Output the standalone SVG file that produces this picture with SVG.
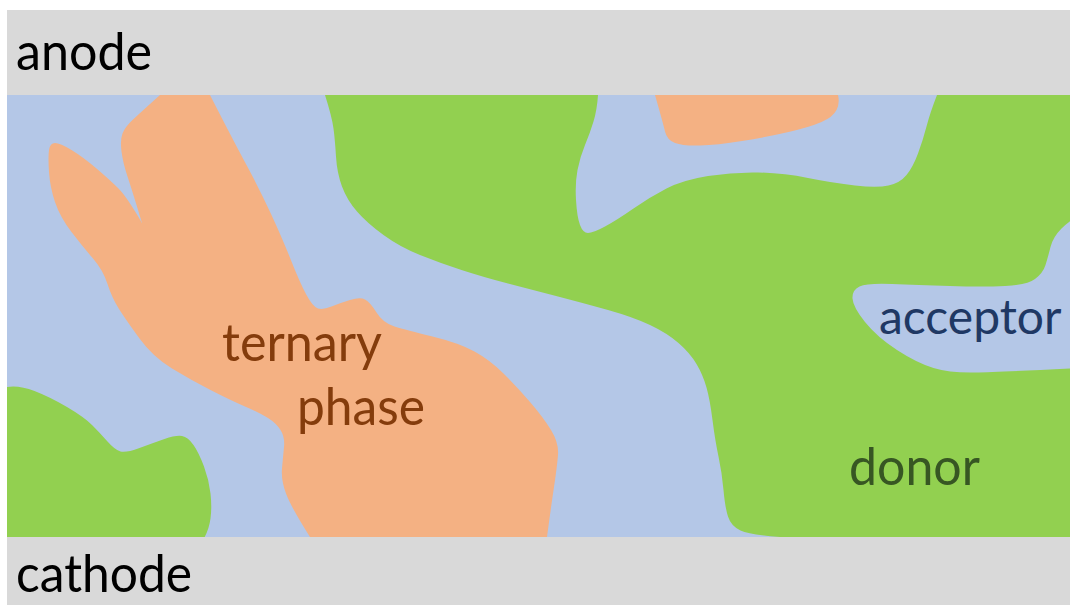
<svg xmlns="http://www.w3.org/2000/svg" width="1070" height="605" viewBox="0 0 1070 605">
  <style>
    .electrode { fill: #D9D9D9; }
    .matrix { fill: #B4C7E7; }
    .donor { fill: #92D050; }
    .ternary { fill: #F4B183; }
    .label { font-family: Lato, "Open Sans", "Liberation Sans", sans-serif; font-size: 53px; }
  </style>
  <defs>
    <clipPath id="active-layer">
      <rect x="7" y="95" width="1063" height="442"/>
    </clipPath>
  </defs>
  <rect width="1070" height="605" fill="#FFFFFF"/>

  <!-- active layer: acceptor matrix with donor and ternary domains -->
  <g id="active" clip-path="url(#active-layer)">
    <rect id="acceptor-matrix" class="matrix" x="7" y="95" width="1063" height="442"/>

    <path id="donor-main" class="donor" d="M 325,80 L 325,95
      Q 332,117 333.5,128.5 Q 335,140 336,156.5 Q 337,173 342,186.5 Q 347,200 357,211.5
      Q 367,223 383.5,235 Q 400,247 420,255 Q 440,263 461.5,270 Q 483,277 508,283.5
      Q 533,290 558,296.5 Q 583,303 608,310 Q 633,317 650,325 Q 667,333 678.5,343
      Q 690,353 696.5,364 Q 703,375 706.5,387.5 Q 710,400 712.5,420 Q 715,440 718.5,456.5
      Q 722,473 723.5,490 Q 725,507 728,516.5 Q 731,526 740.5,530.5 Q 750,535 780,537
      L 780,550 L 1080,550 L 1080,368
      Q 1000,372 975,372.5 Q 950,373 933.5,368 Q 917,363 897,350 Q 877,337 865,322
      Q 853,307 852.5,298.5 Q 852,290 859.5,286.5 Q 867,283 892,284 Q 917,285 950,286
      Q 983,287 1005,286 Q 1027,285 1035,279 Q 1043,273 1045.5,265 Q 1048,257 1050.5,247
      Q 1053,237 1061.5,228.5 Q 1070,220 1080,215
      L 1080,80 L 937,80 L 937,95
      Q 930,113 926.5,126.5 Q 923,140 918,153.5 Q 913,167 906.5,175 Q 900,183 888.5,185.5
      Q 877,188 855,185.5 Q 833,183 808,178 Q 783,173 758,172.5 Q 733,172 708,176
      Q 683,180 666.5,188.5 Q 650,197 633.5,208.5 Q 617,220 605,226.5 Q 593,233 588,233
      Q 583,233 580,225 Q 577,217 576,200 Q 575,183 577.5,170 Q 580,157 585,145
      Q 590,133 593.5,121.5 Q 597,110 598,95 L 598,80 Z"/>

    <path id="donor-corner" class="donor" d="M 0,550 L 0,388 L 7,387
      Q 19,385 34.5,391 Q 50,397 67,407 Q 84,417 92,425 Q 100,433 107.5,441.5
      Q 115,450 120.5,451.5 Q 126,453 139.5,448 Q 153,443 164.5,439 Q 176,435 182,436
      Q 188,437 193.5,445 Q 199,453 204,466.5 Q 209,480 210.5,493.5 Q 212,507 210.5,518.5
      Q 209,530 203,540 L 200,550 Z"/>

    <path id="ternary-main" class="ternary" d="M 152,80 L 212,80 L 210,95
      Q 233,140 246.5,165 Q 260,190 271.5,215 Q 283,240 291.5,261.5 Q 300,283 306.5,295
      Q 313,307 318,308.5 Q 323,310 331.5,306.5 Q 340,303 350,300 Q 360,297 365,299.5
      Q 370,302 376.5,312.5 Q 383,323 394.5,326.5 Q 406,330 432.5,336.5 Q 459,343 474.5,351.5
      Q 490,360 503.5,373.5 Q 517,387 530,402 Q 543,417 551,430 Q 559,443 558,455
      Q 557,467 554,487 Q 551,507 547,537 L 546,550 L 308,550 L 310,537
      Q 291,507 286,493.5 Q 281,480 282,468.5 Q 283,457 284,447 Q 285,437 280.5,430
      Q 276,423 268,418 Q 260,413 245,406.5 Q 230,400 210.5,390 Q 191,380 172,368.5
      Q 153,357 139.5,338.5 Q 126,320 119,309 Q 112,298 107.5,284 Q 103,270 93,258.5
      Q 83,247 71.5,232 Q 60,217 55,202 Q 50,187 49,172 Q 48,157 49,150
      Q 50,143 55,143 Q 60,143 71.5,150 Q 83,157 96.5,168.5 Q 110,180 118.5,188.5
      Q 127,197 142,223
      Q 132,190 127.5,176.5 Q 123,163 121.5,151.5 Q 120,140 122.5,133.5 Q 125,127 132.5,120
      Q 140,113 150,104 L 160,95 L 152,80 Z"/>

    <path id="ternary-top" class="ternary" d="M 653,80 L 655,95
      Q 663,123 665,131.5 Q 667,140 675,143 Q 683,146 700,145.5 Q 717,145 742,141
      Q 767,137 788.5,132 Q 810,127 821.5,122 Q 833,117 836.5,110 Q 840,103 838,95
      L 838,80 Z"/>
  </g>

  <!-- electrodes -->
  <g id="anode">
    <rect class="electrode" x="7" y="10" width="1063" height="85"/>
    <text class="label" x="16" y="70" fill="#000000" textLength="136" lengthAdjust="spacingAndGlyphs">anode</text>
  </g>
  <g id="cathode">
    <rect class="electrode" x="7" y="537" width="1063" height="68"/>
    <text class="label" x="16" y="592" fill="#000000" textLength="176" lengthAdjust="spacingAndGlyphs">cathode</text>
  </g>

  <!-- phase labels -->
  <g id="labels">
    <text id="label-ternary" class="label" x="222" y="361" fill="#843C0C" textLength="160" lengthAdjust="spacingAndGlyphs">ternary</text>
    <text id="label-phase" class="label" x="297" y="425" fill="#843C0C" textLength="128" lengthAdjust="spacingAndGlyphs">phase</text>
    <text id="label-acceptor" class="label" x="879" y="334" fill="#1F3864" style="font-size:48px">acceptor</text>
    <text id="label-donor" class="label" x="849" y="485" fill="#375623" textLength="131" lengthAdjust="spacingAndGlyphs">donor</text>
  </g>
</svg>
